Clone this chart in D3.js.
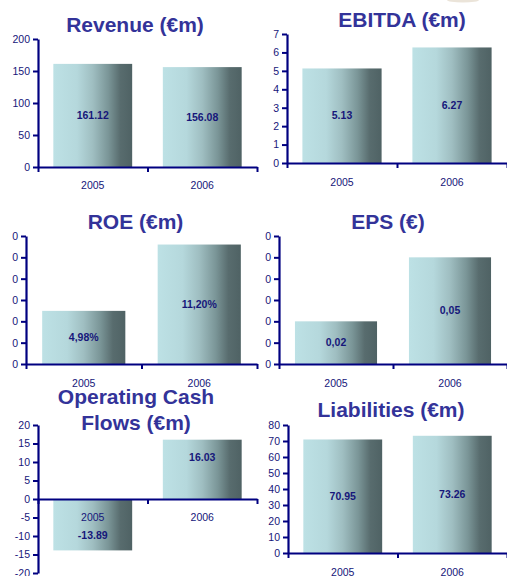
<!DOCTYPE html>
<html>
<head>
<meta charset="utf-8">
<script src="https://cdn.jsdelivr.net/npm/d3@7"></script>
<style>
  body { margin: 0; background: #ffffff; }
  svg { display: block; }
</style>
</head>
<body>
<svg id="chart" width="507" height="576"></svg>
<script>
// ---- data ----
const years = ["2005", "2006"];
const revenue = [161.12, 156.08];
const ebitda = [5.13, 6.27];
const roe = [0.0498, 0.1120];
const eps = [0.02, 0.05];
const cashFlows = [-13.89, 16.03];
const liabilities = [70.95, 73.26];

const revenueTicks = [0, 50, 100, 150, 200];
const ebitdaTicks = [0, 1, 2, 3, 4, 5, 6, 7];
const roeTicks = [0, 0.02, 0.04, 0.06, 0.08, 0.10, 0.12];
const epsTicks = [0, 0.01, 0.02, 0.03, 0.04, 0.05, 0.06];
const cashTicks = [-20, -15, -10, -5, 0, 5, 10, 15, 20];
const liabilityTicks = [0, 10, 20, 30, 40, 50, 60, 70, 80];

// ---- formats (plain hyphen for negatives) ----
const locale = d3.formatLocale({ decimal: ".", thousands: ",", grouping: [3], currency: ["", "€"], minus: "-" });
const dot2 = locale.format(".2f");
const comma2 = d => dot2(d).replace(".", ",");
const pct2 = d => dot2(d * 100).replace(".", ",") + "%";
const intFmt = locale.format(".0f");

// ---- panel layout ----
const panels = [
  { title: ["Revenue (€m)"], values: revenue, ticks: revenueTicks, tickFmt: intFmt, valueFmt: dot2,
    x0: 38, x1: 257, yTop: 39, yBot: 167, titleX: 135, titleY: 25, yearY: 185, labelAt: 0.5 },
  { title: ["EBITDA (€m)"], values: ebitda, ticks: ebitdaTicks, tickFmt: intFmt, valueFmt: dot2,
    x0: 287, x1: 507, yTop: 34, yBot: 163, titleX: 402, titleY: 20, yearY: 182, labelAt: 0.5 },
  { title: ["ROE (€m)"], values: roe, ticks: roeTicks, tickFmt: intFmt, valueFmt: pct2,
    x0: 26, x1: 257, yTop: 236, yBot: 364, titleX: 135.5, titleY: 222, yearY: 383, labelAt: 0.5 },
  { title: ["EPS (€)"], values: eps, ticks: epsTicks, tickFmt: intFmt, valueFmt: comma2,
    x0: 279, x1: 507, yTop: 236, yBot: 364, titleX: 388, titleY: 222, yearY: 383, labelAt: 0.5 },
  { title: ["Operating Cash", "Flows (€m)"], values: cashFlows, ticks: cashTicks, tickFmt: intFmt, valueFmt: dot2,
    x0: 38, x1: 257, yTop: 425, yBot: 573, titleX: 136, titleY: 397, yearY: 517, labelAt: 0.71 },
  { title: ["Liabilities (€m)"], values: liabilities, ticks: liabilityTicks, tickFmt: intFmt, valueFmt: dot2,
    x0: 288, x1: 507, yTop: 425, yBot: 553, titleX: 391, titleY: 410, yearY: 572, labelAt: 0.5 }
];

const NAVY = "#000080";
const TEXT = "#16167a";
const TITLE = "#333399";
const FONT = "'Liberation Sans', Arial, sans-serif";

const svg = d3.select("#chart");

// faint smudge at the top edge
svg.append("ellipse")
  .attr("cx", 463).attr("cy", 0).attr("rx", 16).attr("ry", 2.5)
  .attr("fill", "#e6ddd0").attr("opacity", 0.8);

// horizontal bar shading
const grad = svg.append("defs").append("linearGradient")
  .attr("id", "barShade").attr("x1", "0").attr("x2", "1").attr("y1", "0").attr("y2", "0");
[
  [0, "#bde1e5"], [0.3, "#b5d8dc"], [0.5, "#9fbec1"],
  [0.7, "#7a9597"], [0.85, "#586c6e"], [1, "#4f6264"]
].forEach(([o, c]) => grad.append("stop").attr("offset", o).attr("stop-color", c));

panels.forEach(p => {
  const g = svg.append("g");
  const ext = d3.extent(p.ticks);
  const y = d3.scaleLinear().domain(ext).range([p.yBot, p.yTop]);
  const x = d3.scaleBand().domain(years).range([p.x0, p.x1]).paddingInner(0.28).paddingOuter(0.14);
  const y0 = y(0);

  // bars
  g.selectAll("rect.bar").data(p.values).join("rect")
    .attr("class", "bar")
    .attr("x", (d, i) => x(years[i]))
    .attr("width", x.bandwidth())
    .attr("y", d => Math.min(y(d), y0))
    .attr("height", d => Math.abs(y(d) - y0))
    .attr("fill", "url(#barShade)");

  // y axis
  const ya = g.append("g")
    .attr("transform", `translate(${p.x0},0)`)
    .call(d3.axisLeft(y).tickValues(p.ticks).tickFormat(p.tickFmt).tickSizeInner(5).tickSizeOuter(0).tickPadding(3));
  ya.select(".domain").attr("stroke", NAVY).attr("stroke-width", 2.2);
  ya.selectAll(".tick line").attr("stroke", NAVY).attr("stroke-width", 2);
  ya.selectAll(".tick text").attr("fill", TEXT).style("font-family", FONT).style("font-size", "10.5px");

  // x axis: ticks between categories
  const xb = d3.scaleLinear().domain([0, years.length]).range([p.x0, p.x1]);
  const xa = g.append("g")
    .attr("transform", `translate(0,${y0})`)
    .call(d3.axisBottom(xb).tickValues(d3.range(years.length + 1)).tickFormat("").tickSizeInner(5).tickSizeOuter(0));
  xa.select(".domain").attr("stroke", NAVY).attr("stroke-width", 2.2);
  xa.selectAll(".tick line").attr("stroke", NAVY).attr("stroke-width", 2);

  // year labels
  g.selectAll("text.year").data(years).join("text")
    .attr("class", "year")
    .attr("x", d => x(d) + x.bandwidth() / 2)
    .attr("y", p.yearY)
    .attr("dy", "0.35em")
    .attr("text-anchor", "middle")
    .attr("fill", TEXT)
    .style("font-family", FONT).style("font-size", "10.5px")
    .text(d => d);

  // value labels inside bars
  g.selectAll("text.val").data(p.values).join("text")
    .attr("class", "val")
    .attr("x", (d, i) => x(years[i]) + x.bandwidth() / 2)
    .attr("y", d => y(d * p.labelAt))
    .attr("dy", "0.35em")
    .attr("text-anchor", "middle")
    .attr("fill", TEXT)
    .style("font-family", FONT).style("font-size", "10.5px").style("font-weight", "bold")
    .text(d => p.valueFmt(d));

  // title
  p.title.forEach((line, i) => {
    svg.append("text")
      .attr("x", p.titleX)
      .attr("y", p.titleY + i * 26)
      .attr("dy", "0.35em")
      .attr("text-anchor", "middle")
      .attr("fill", TITLE)
      .style("font-family", FONT).style("font-size", "21px").style("font-weight", "bold")
      .text(line);
  });
});
</script>
</body>
</html>
